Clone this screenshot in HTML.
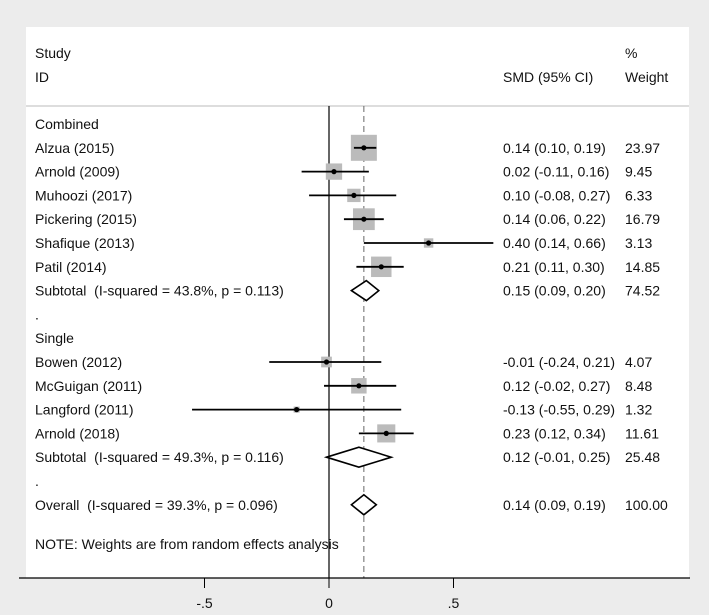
<!DOCTYPE html>
<html><head><meta charset="utf-8">
<style>
html,body{margin:0;padding:0;background:#ececec;}
svg{display:block;font-family:"Liberation Sans",Arial,sans-serif;}
</style></head>
<body>
<svg id="chart" width="709" height="615" viewBox="0 0 709 615">
<rect x="26" y="27" width="663" height="551" fill="#fff"/>
<g font-size="14" fill="#111">
<text x="35" y="58">Study</text>
<text x="35" y="82">ID</text>
<text x="503" y="82">SMD (95% CI)</text>
<text x="625" y="58">%</text>
<text x="625" y="82">Weight</text>
</g>
<line x1="26" y1="106" x2="689" y2="106" stroke="#bbb" stroke-width="1"/>
<g id="marks"></g>
<line x1="19" y1="578" x2="690" y2="578" stroke="#000" stroke-width="1.2"/>
<g id="axis"></g>
</svg>
<script>
const labels=["Combined","Alzua (2015)","Arnold (2009)","Muhoozi (2017)","Pickering (2015)","Shafique (2013)","Patil (2014)","Subtotal\u00a0 (I-squared = 43.8%, p = 0.113)",".","Single","Bowen (2012)","McGuigan (2011)","Langford (2011)","Arnold (2018)","Subtotal\u00a0 (I-squared = 49.3%, p = 0.116)",".","Overall\u00a0 (I-squared = 39.3%, p = 0.096)"];
const rowType=["head","study","study","study","study","study","study","sub","blank","head","study","study","study","study","sub","blank","sub"];
const est=[null,0.14,0.02,0.10,0.14,0.40,0.21,0.15,null,null,-0.01,0.12,-0.13,0.23,0.12,null,0.14];
const lo=[null,0.10,-0.11,-0.08,0.06,0.14,0.11,0.09,null,null,-0.24,-0.02,-0.55,0.12,-0.01,null,0.09];
const hi=[null,0.19,0.16,0.27,0.22,0.66,0.30,0.20,null,null,0.21,0.27,0.29,0.34,0.25,null,0.19];
const ciText=[null,"0.14 (0.10, 0.19)","0.02 (-0.11, 0.16)","0.10 (-0.08, 0.27)","0.14 (0.06, 0.22)","0.40 (0.14, 0.66)","0.21 (0.11, 0.30)","0.15 (0.09, 0.20)",null,null,"-0.01 (-0.24, 0.21)","0.12 (-0.02, 0.27)","-0.13 (-0.55, 0.29)","0.23 (0.12, 0.34)","0.12 (-0.01, 0.25)",null,"0.14 (0.09, 0.19)"];
const weights=[null,23.97,9.45,6.33,16.79,3.13,14.85,74.52,null,null,4.07,8.48,1.32,11.61,25.48,null,100.00];
const overall=0.14;
const ticks=[-0.5,0,0.5];
const tickLabels=["-.5","0",".5"];

const NS="http://www.w3.org/2000/svg";
const xs=v=>329+v*249;
const ys=i=>124+i*23.8;
function mk(tag,attrs,parent){const e=document.createElementNS(NS,tag);for(const k in attrs)e.setAttribute(k,attrs[k]);parent.appendChild(e);return e;}
const g=document.getElementById('marks');
const ax=document.getElementById('axis');

let z=mk('line',{x1:xs(0),y1:106,x2:xs(0),y2:578,stroke:'#000','stroke-width':1.2},g);


let d=mk('line',{x1:xs(overall),y1:106,x2:xs(overall),y2:578,stroke:'#666','stroke-width':1,'stroke-dasharray':'6,4'},g);



labels.forEach((lab,i)=>{
  const y=ys(i);
  const t=mk('text',{x:35,y:y+5,'font-size':14,fill:'#111'},g);
  t.textContent=lab;
  
  
  if(est[i]===null)return;
  if(rowType[i]==='study'){
    const s=26*Math.sqrt(weights[i]/23.97);
    const r=mk('rect',{x:xs(est[i])-s/2,y:y-s/2,width:s,height:s,fill:'#bbb'},g);
    
    
    const l=mk('line',{x1:xs(lo[i]),y1:y,x2:xs(hi[i]),y2:y,stroke:'#000','stroke-width':1.8},g);
    
    
    const c=mk('circle',{cx:xs(est[i]),cy:y,r:2.6,fill:'#000'},g);
    
    
  } else {
    const p=mk('polygon',{points:`${xs(lo[i])},${y} ${xs(est[i])},${y-10} ${xs(hi[i])},${y} ${xs(est[i])},${y+10}`,fill:'#fff',stroke:'#000','stroke-width':1.6},g);
    
    
  }
  const ct=mk('text',{x:503,y:y+5,'font-size':14,fill:'#111'},g);
  ct.textContent=ciText[i];
  
  
  const wt=mk('text',{x:625,y:y+5,'font-size':14,fill:'#111'},g);
  wt.textContent=weights[i].toFixed(2);
  
  
});
const note=mk('text',{x:35,y:549,'font-size':14,fill:'#111'},g);
note.textContent="NOTE: Weights are from random effects analysis";



ticks.forEach((v,i)=>{
  const tl=mk('line',{x1:xs(v),y1:578,x2:xs(v),y2:588,stroke:'#000','stroke-width':1},ax);
  
  
  const tt=mk('text',{x:xs(v),y:608,'font-size':14,'text-anchor':'middle',fill:'#111'},ax);
  tt.textContent=tickLabels[i];
  
  
});
</script>
</body></html>
